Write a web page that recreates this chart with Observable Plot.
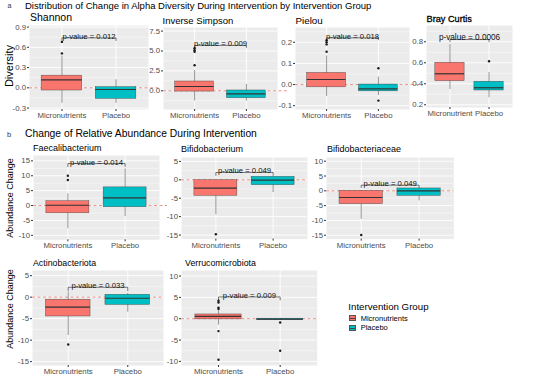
<!DOCTYPE html>
<html><head><meta charset="utf-8">
<script src="https://cdn.jsdelivr.net/npm/d3@7"></script>
<script src="https://cdn.jsdelivr.net/npm/@observablehq/plot@0.6"></script>
<style>
body{margin:0;background:#fff;}
#root{position:relative;width:553px;height:379px;overflow:hidden;font-family:"Liberation Sans",Arial,Helvetica,sans-serif;color:#000;background:#fff;}
.t{position:absolute;white-space:nowrap;line-height:1;}
.pw{position:absolute;}
</style></head><body><div id="root"></div>
<script>
// ---------- data ----------
const groups = ["Micronutrients", "Placebo"];
const groupColors = ["#F8766D", "#00BFC4"];
// box stats per group: [lower whisker, Q1, median, Q3, upper whisker]
const shannonBox = [[-0.23, -0.04, 0.118, 0.18, 0.47], [-0.23, -0.163, -0.025, 0.01, 0.12]];
const shannonOut = [[0.51, 0.68], []];
const invSimpsonBox = [[-1.3, -0.1, 0.54, 1.17, 2.55], [-1.3, -0.93, -0.38, 0.04, 0.8]];
const invSimpsonOut = [[3.2, 4.9, 5.1, 5.35], []];
const pielouBox = [[-0.057, -0.013, 0.024, 0.055, 0.135], [-0.052, -0.032, -0.02, 0.0, 0.035]];
const pielouOut = [[0.155, 0.19, 0.2, 0.21], [0.077, -0.076]];
const brayBox = [[0.346, 0.425, 0.495, 0.6, 0.774], [0.267, 0.336, 0.362, 0.419, 0.508]];
const brayOut = [[], [0.615]];
const faecaliBox = [[-7.8, -2.6, 0.1, 1.45, 3.9], [-3.7, -0.55, 2.6, 6.1, 12.3]];
const faecaliOut = [[8.6, 10.0], []];
const bifidoBox = [[-9.5, -4.35, -2.25, -0.1, -0.1], [-3.45, -1.45, -0.1, 0.8, 0.8]];
const bifidoOut = [[-14.8], []];
const bifidoceaeBox = [[-9.6, -4.5, -2.25, 0, 0], [-3.4, -1.7, 0, 0.8, 0.8]];
const bifidoceaeOut = [[-14.9], []];
const actinoBox = [[-8.9, -4.5, -2.3, -0.6, 1.15], [-3.5, -1.8, -0.25, 0.55, 0.9]];
const actinoOut = [[-11.0], []];
const verrucoBox = [[-1.5, -0.15, 0.55, 1.0, 2.0], [-0.4, -0.3, -0.1, 0.0, 0.1]];
const verrucoOut = [[2.3, 2.6, 3.8, 4.2, -2.9, -9.6], [-0.9, -7.5]];
// p-values
const pValues = ["p-value = 0.012", "p-value = 0.009", "p-value = 0.018", "p-value = 0.0006",
                 "p-value = 0.014", "p-value = 0.049", "p-value = 0.049", "p-value = 0.033", "p-value = 0.009"];
// bracket heights [top, left end, right end]
const brackets = [[0.74, 0.70, 0.70], [5.7, 5.4, 5.45], [0.221, 0.212, 0.212], [0.822, 0.8, 0.8],
                  [14.1, 13.1, 13.1], [2.0, 1.2, 1.2], [1.9, 1.1, 1.1], [2.3, 1.5, 1.5], [5.1, 4.4, 4.4]];
// tick labels
const shannonTicks = [-0.3, 0, 0.3, 0.6, 0.9];
const invSimpsonTicks = [0, 2.5, 5, 7.5];
const pielouTicks = [-0.1, 0, 0.1, 0.2];
const brayTicks = [0.2, 0.4, 0.6, 0.8];
const faecaliTicks = [-10, -5, 0, 5, 10, 15];
const bifidoTicks = [-15, -10, -5, 0, 5];
const bifidoceaeTicks = [-15, -10, -5, 0, 5, 10];
const actinoTicks = [-15, -10, -5, 0, 5];
const verrucoTicks = [-10, -5, 0, 5, 10];
const panelTitles = ["Shannon", "Inverse Simpson", "Pielou", "Bray Curtis", "Faecalibacterium",
                     "Bifidobacterium", "Bifidobacteriaceae", "Actinobacteriota", "Verrucomicrobiota"];

// ---------- layout ----------
const root = document.getElementById("root");
const FONT = '"Liberation Sans", Arial, Helvetica, sans-serif';
function txt(s, x, cy, fs, extra = {}) {
  const d = document.createElement("div");
  d.className = "t";
  d.textContent = s;
  d.style.left = x + "px";
  d.style.top = (cy - fs * 0.5) + "px";
  d.style.fontSize = fs + "px";
  Object.assign(d.style, extra);
  root.appendChild(d);
  return d;
}
function vtxt(s, cx, cy, fs) {
  const d = document.createElement("div");
  d.className = "t";
  d.textContent = s;
  d.style.left = cx + "px";
  d.style.top = cy + "px";
  d.style.fontSize = fs + "px";
  d.style.transform = "translate(-50%,-50%) rotate(-90deg)";
  root.appendChild(d);
}
const minorOf = (ticks, dom) => {
  const step = ticks[1] - ticks[0];
  const out = [];
  for (let v = ticks[0] - step / 2; v <= dom[1]; v += step) if (v >= dom[0]) out.push(+v.toFixed(6));
  return out;
};
const f1 = d => d.toFixed(1);
const fi = d => String(d);

const panels = [
  {box: shannonBox, out: shannonOut, ticks: shannonTicks, fmt: f1, l: 29, t: 25, r: 148, b: 109, dom: [-0.321, 0.923], ext: 12, tx: 30, ty: 17.5, tfs: 10.5},
  {box: invSimpsonBox, out: invSimpsonOut, ticks: invSimpsonTicks, fmt: f1, l: 163, t: 27, r: 277, b: 109, dom: [-2.35, 7.95], ext: 10, tx: 162.5, ty: 20.5, tfs: 9.5},
  {box: pielouBox, out: pielouOut, ticks: pielouTicks, fmt: f1, l: 295, t: 27, r: 409, b: 109, dom: [-0.118, 0.27], ext: 14, tx: 295.5, ty: 20.8, tfs: 9.8},
  {box: brayBox, out: brayOut, ticks: brayTicks, fmt: f1, l: 426, t: 25, r: 512, b: 107, dom: [0.174, 0.955], ext: 0, tx: 426.5, ty: 20, tfs: 9.2, bold: true, pfs: 8.2, xl: ["Micronutrient", "Placebo"]},
  {box: faecaliBox, out: faecaliOut, ticks: faecaliTicks, fmt: fi, l: 33, t: 155, r: 159, b: 239.3, dom: [-11.5, 16.8], ext: 8, tx: 33, ty: 148.8, tfs: 9},
  {box: bifidoBox, out: bifidoOut, ticks: bifidoTicks, fmt: fi, l: 181, t: 156.7, r: 307, b: 238.3, dom: [-16.1, 6.06], ext: 0, tx: 181, ty: 149, tfs: 9},
  {box: bifidoceaeBox, out: bifidoceaeOut, ticks: bifidoceaeTicks, fmt: fi, l: 326, t: 156.7, r: 453.3, b: 238.3, dom: [-16.3, 11.25], ext: 0, tx: 327, ty: 149, tfs: 9},
  {box: actinoBox, out: actinoOut, ticks: actinoTicks, fmt: fi, l: 32, t: 270, r: 163, b: 365, dom: [-15.9, 6.2], ext: 0, tx: 33, ty: 263.7, tfs: 8.8},
  {box: verrucoBox, out: verrucoOut, ticks: verrucoTicks, fmt: fi, l: 181, t: 270, r: 316.7, b: 365, dom: [-10.96, 11.3], ext: 0, tx: 185, ty: 263.7, tfs: 8.8}
];

panels.forEach((p, k) => {
  const ml = 24, mr = 18, mt = 4, mb = 14;
  const W = p.r - p.l, H = p.b - p.t;
  const xl = p.xl || groups;
  const rows = groups.map((g, i) => ({g, x: i + 1, lo: p.box[i][0], q1: p.box[i][1], med: p.box[i][2], q3: p.box[i][3], hi: p.box[i][4]}));
  const outs = p.out.flatMap((arr, i) => arr.map(v => ({x: i + 1, y: v})));
  const [bt, be1, be2] = brackets[k];
  const br = [{x: 1, y: be1}, {x: 1, y: bt}, {x: 2, y: bt}, {x: 2, y: be2}];
  const bw = 0.375;
  const minor = minorOf(p.ticks, p.dom);
  const hasZero = p.dom[0] < 0 && p.dom[1] > 0;
  const chart = Plot.plot({
    width: W + ml + mr, height: H + mt + mb,
    marginLeft: ml, marginRight: mr, marginTop: mt, marginBottom: mb,
    x: {domain: [0.4, 2.6]},
    y: {domain: p.dom},
    color: {domain: groups, range: groupColors},
    style: {fontFamily: FONT, fontSize: "7.8px", background: "transparent", overflow: "visible"},
    marks: [
      Plot.frame({fill: "#ebebeb", stroke: null}),
      Plot.ruleY(minor, {x1: () => 0.4, x2: () => 2.6, stroke: "#fff", strokeWidth: 0.45}),
      Plot.ruleY(p.ticks, {x1: () => 0.4, x2: () => 2.6, stroke: "#fff", strokeWidth: 0.9}),
      Plot.ruleX([1, 2], {y1: () => p.dom[0], y2: () => p.dom[1], stroke: "#fff", strokeWidth: 0.9}),
      Plot.ruleY(hasZero ? [0] : [], {x1: () => 0.4, x2: () => 2.6 + p.ext / (W / 2.2), stroke: "#e8776f", strokeDasharray: "3,2.5", strokeWidth: 0.8}),
      Plot.ruleX(rows, {x: "x", y1: "lo", y2: "hi", stroke: "#333", strokeWidth: 0.5}),
      Plot.rect(rows, {x1: d => d.x - bw, x2: d => d.x + bw, y1: "q1", y2: "q3", fill: "g", stroke: "#333", strokeOpacity: 0.75, strokeWidth: 0.5}),
      Plot.ruleY(rows, {x1: d => d.x - bw, x2: d => d.x + bw, y: "med", stroke: "#333", strokeWidth: 1.2}),
      Plot.dot(outs, {x: "x", y: "y", r: 1.2, fill: "#1a1a1a", stroke: null}),
      Plot.line(br, {x: "x", y: "y", stroke: "#222", strokeWidth: 0.6}),
      Plot.text([pValues[k]], {x: () => 1.5, y: () => bt, text: d => d, lineAnchor: "bottom", dy: 1, fontSize: p.pfs || 7.7, fill: "#111"}),
      Plot.axisY(p.ticks, {tickSize: 2, tickPadding: 1.5, tickFormat: p.fmt, fontSize: 7.8, fill: "#4d4d4d", stroke: "#333", label: null}),
      Plot.axisX([1, 2], {tickSize: 2, tickPadding: 1, tickFormat: d => xl[d - 1], fontSize: 7.8, fill: "#4d4d4d", stroke: "#333", label: null})
    ]
  });
  const wrap = document.createElement("div");
  wrap.className = "pw";
  wrap.style.left = (p.l - ml) + "px";
  wrap.style.top = (p.t - mt) + "px";
  wrap.style.width = (W + ml + mr) + "px";
  wrap.style.height = (H + mt + mb) + "px";
  wrap.appendChild(chart);
  root.appendChild(wrap);
  txt(panelTitles[k], p.tx, p.ty, p.tfs, p.bold ? {webkitTextStroke: "0.3px #000"} : {});
});

// headings
txt("a", 7.5, 5.5, 7, {color: "#333"});
txt("Distribution of Change in Alpha Diversity During Intervention by Intervention Group", 25, 6, 9.5);
txt("b", 7, 134.5, 7.5, {color: "#333"});
txt("Change of Relative Abundance During Intervention", 25, 134, 10.3);
// y titles
vtxt("Diversity", 8.5, 66, 11);
vtxt("Abundance Change", 9.5, 198, 9);
vtxt("Abundance Change", 9.5, 309, 9);

// legend
txt("Intervention Group", 348.3, 306.7, 9.7);
groups.forEach((g, i) => {
  const y = 318.5 + i * 9.6;
  const key = document.createElement("div");
  key.style.cssText = `position:absolute;left:349px;top:${y - 3.5}px;width:7px;height:6px;background:${groupColors[i]};border:0.5px solid #555;box-sizing:border-box;`;
  const mid = document.createElement("div");
  mid.style.cssText = `position:absolute;left:0;right:0;top:2.2px;height:1px;background:#444;`;
  key.appendChild(mid);
  root.appendChild(key);
  txt(g, 360.7, y, 7.5);
});
</script></body></html>
